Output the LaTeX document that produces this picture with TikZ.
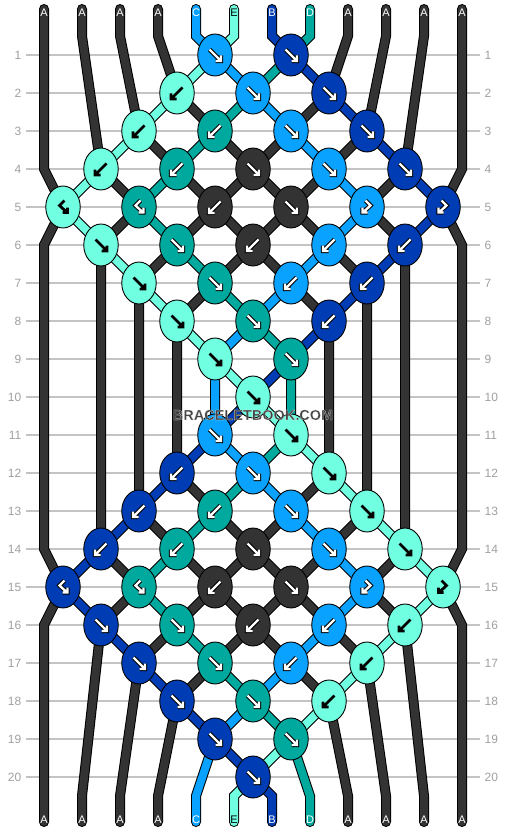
\documentclass[tikz,border=0pt]{standalone}
\usepackage{fontspec}
\setmainfont{Liberation Sans}
\usetikzlibrary{shapes.geometric}
\definecolor{colA}{HTML}{333333}
\definecolor{colB}{HTML}{003CB4}
\definecolor{colC}{HTML}{0AA2FF}
\definecolor{colD}{HTML}{00A99D}
\definecolor{colE}{HTML}{70FFE0}
\definecolor{gridc}{HTML}{C4C4C4}
\definecolor{numc}{HTML}{A0A0A0}
\definecolor{wmc}{HTML}{454545}
\pgfdeclarelayer{grid}\pgfdeclarelayer{strands}
\pgfsetlayers{grid,strands,main}
\tikzset{
 knot/.style={ellipse, draw=black, line width=0.9pt, minimum width=34.5pt, minimum height=42pt, inner sep=0pt},
 rownum/.style={text=numc, font=\fontsize{12}{14}\selectfont, inner sep=0pt},
 gridline/.style={gridc, line width=1.1pt},
 strandout/.style={black, line width=10pt, line cap=round, line join=miter},
 strandin/.style={line width=8pt, line cap=round, line join=miter},
 endlabel/.style={font=\fontsize{11}{12}\selectfont, inner sep=0pt},
 wmark/.style={font=\fontsize{14.5}{16}\selectfont\bfseries, inner sep=0.6pt},
}
% arrow drawing: #1 node, #2 shaft, #3 head
\newcommand\ardw[3]{\begin{scope}[shift={(#1.center)}, line join=miter, line cap=square]
 \draw[black, line width=4.4pt] #2 #3;
 \draw[white, line width=2.4pt] #2 #3;
 \end{scope}}
\newcommand\ardk[3]{\begin{scope}[shift={(#1.center)}, line join=miter, line cap=square]
 \draw[black, line width=2.8pt] #2 #3;
 \end{scope}}
\newcommand\karf[2]{#2{#1}{(-5.5,-5.5)--(5,5)}{(6,0.5)--(6,6)--(0.5,6)}}
\newcommand\karb[2]{#2{#1}{(5.5,-5.5)--(-5,5)}{(-6,0.5)--(-6,6)--(-0.5,6)}}
\newcommand\karbf[2]{#2{#1}{(1.5,-6.5)--(-3.5,-1.5)--(3.5,5)}{(4.5,0.5)--(4.5,5.5)--(-0.5,5.5)}}
\newcommand\karfb[2]{#2{#1}{(-1.5,-6.5)--(3.5,-1.5)--(-3.5,5)}{(-4.5,0.5)--(-4.5,5.5)--(0.5,5.5)}}
\newcommand\strand[2]{\draw[strandout] #2; \draw[strandin, #1] #2;}
\begin{document}
\begin{tikzpicture}[x=1pt,y=-1pt]
\useasboundingbox (0,0) rectangle (506,832);
\begin{pgfonlayer}{grid}
\fill[white] (0,0) rectangle (506,832);
\foreach \r in {1,...,20}{
 \draw[gridline] (26,{17+38*\r}) -- (480,{17+38*\r});
 \node[rownum, anchor=east] (nl\r) at (21.5,{17+38*\r}) {\r};
 \node[rownum, anchor=west] (nr\r) at (484.5,{17+38*\r}) {\r};
}
\end{pgfonlayer}
% strand end coordinates
\foreach \p in {1,...,12}{
 \pgfmathsetmacro\xx{44+38*(\p-1)}
 \coordinate (u\p) at (\xx,9);
 \coordinate (t\p) at (\xx,36);
 \coordinate (b\p) at (\xx,796);
 \coordinate (v\p) at (\xx,822);
}
\coordinate (e4L) at (44,169); \coordinate (e6L) at (44,245);
\coordinate (e14L) at (44,549); \coordinate (e16L) at (44,625);
\coordinate (e4R) at (462,169); \coordinate (e6R) at (462,245);
\coordinate (e14R) at (462,549); \coordinate (e16R) at (462,625);
% knots
\foreach \r/\j/\c/\t/\a in {
 1/9/C/f/w, 1/13/B/f/w,
 2/7/E/b/k, 2/11/C/f/w, 2/15/B/f/w,
 3/5/E/b/k, 3/9/D/b/w, 3/13/C/f/w, 3/17/B/f/w,
 4/3/E/b/k, 4/7/D/b/w, 4/11/A/f/w, 4/15/C/f/w, 4/19/B/f/w,
 5/1/E/bf/k, 5/5/D/bf/w, 5/9/A/b/w, 5/13/A/f/w, 5/17/C/fb/w, 5/21/B/fb/w,
 6/3/E/f/k, 6/7/D/f/w, 6/11/A/b/w, 6/15/C/b/w, 6/19/B/b/w,
 7/5/E/f/k, 7/9/D/f/w, 7/13/C/b/w, 7/17/B/b/w,
 8/7/E/f/k, 8/11/D/f/w, 8/15/B/b/w,
 9/9/E/f/k, 9/13/D/f/w,
 10/11/E/f/k,
 11/9/C/f/w, 11/13/E/f/k,
 12/7/B/b/w, 12/11/C/f/w, 12/15/E/f/k,
 13/5/B/b/w, 13/9/D/b/w, 13/13/C/f/w, 13/17/E/f/k,
 14/3/B/b/w, 14/7/D/b/w, 14/11/A/f/w, 14/15/C/f/w, 14/19/E/f/k,
 15/1/B/bf/w, 15/5/D/bf/w, 15/9/A/b/w, 15/13/A/f/w, 15/17/C/fb/w, 15/21/E/fb/k,
 16/3/B/f/w, 16/7/D/f/w, 16/11/A/b/w, 16/15/C/b/w, 16/19/E/b/k,
 17/5/B/f/w, 17/9/D/f/w, 17/13/C/b/w, 17/17/E/b/k,
 18/7/B/f/w, 18/11/D/f/w, 18/15/E/b/k,
 19/9/B/f/w, 19/13/D/f/w,
 20/11/B/f/w}{
 \node[knot, fill=col\c] (k\r-\j) at ({44+19*\j},{17+38*\r}) {};
 \expandafter\let\expandafter\ArD\csname ard\a\endcsname
 \csname kar\t\endcsname{k\r-\j}{\ArD}
}
% end labels
\foreach \p/\l/\tc in {1/A/white,2/A/white,3/A/white,4/A/white,5/C/white,6/E/black,7/B/white,8/D/white,9/A/white,10/A/white,11/A/white,12/A/white}{
 \node[endlabel, text=\tc] (lt\p) at ({44+38*(\p-1)},13) {\l};
 \node[endlabel, text=\tc] (lb\p) at ({44+38*(\p-1)},820) {\l};
}
% strands
\begin{pgfonlayer}{strands}
\strand{colA}{(u1)--(t1)--(e4L)--(k5-1.center)--(e6L)--(e14L)--(k15-1.center)--(e16L)--(b1)--(v1)}
\strand{colA}{(u12)--(t12)--(e4R)--(k5-21.center)--(e6R)--(e14R)--(k15-21.center)--(e16R)--(b12)--(v12)}
\strand{colA}{(u2)--(t2)--(k4-3.center)--(k5-5.center)--(k6-3.center)--(k14-3.center)--(k15-5.center)--(k16-3.center)--(b2)--(v2)}
\strand{colA}{(u3)--(t3)--(k3-5.center)--(k4-7.center)--(k5-9.center)--(k6-11.center)--(k7-13.center)--(k8-15.center)--(k12-15.center)--(k13-13.center)--(k14-11.center)--(k15-9.center)--(k16-7.center)--(k17-5.center)--(b3)--(v3)}
\strand{colA}{(u4)--(t4)--(k2-7.center)--(k3-9.center)--(k4-11.center)--(k5-13.center)--(k6-15.center)--(k7-17.center)--(k13-17.center)--(k14-15.center)--(k15-13.center)--(k16-11.center)--(k17-9.center)--(k18-7.center)--(b4)--(v4)}
\strand{colA}{(u9)--(t9)--(k2-15.center)--(k3-13.center)--(k4-11.center)--(k5-9.center)--(k6-7.center)--(k7-5.center)--(k13-5.center)--(k14-7.center)--(k15-9.center)--(k16-11.center)--(k17-13.center)--(k18-15.center)--(b9)--(v9)}
\strand{colA}{(u10)--(t10)--(k3-17.center)--(k4-15.center)--(k5-13.center)--(k6-11.center)--(k7-9.center)--(k8-7.center)--(k12-7.center)--(k13-9.center)--(k14-11.center)--(k15-13.center)--(k16-15.center)--(k17-17.center)--(b10)--(v10)}
\strand{colA}{(u11)--(t11)--(k4-19.center)--(k5-17.center)--(k6-19.center)--(k14-19.center)--(k15-17.center)--(k16-19.center)--(b11)--(v11)}
\strand{colC}{(u5)--(t5)--(k1-9.center)--(k2-11.center)--(k3-13.center)--(k4-15.center)--(k5-17.center)--(k6-15.center)--(k7-13.center)--(k8-11.center)--(k9-9.center)--(k11-9.center)--(k12-11.center)--(k13-13.center)--(k14-15.center)--(k15-17.center)--(k16-15.center)--(k17-13.center)--(k18-11.center)--(k19-9.center)--(b5)--(v5)}
\strand{colE}{(u6)--(t6)--(k1-9.center)--(k2-7.center)--(k3-5.center)--(k4-3.center)--(k5-1.center)--(k6-3.center)--(k7-5.center)--(k8-7.center)--(k9-9.center)--(k10-11.center)--(k11-13.center)--(k12-15.center)--(k13-17.center)--(k14-19.center)--(k15-21.center)--(k16-19.center)--(k17-17.center)--(k18-15.center)--(k19-13.center)--(k20-11.center)--(b6)--(v6)}
\strand{colB}{(u7)--(t7)--(k1-13.center)--(k2-15.center)--(k3-17.center)--(k4-19.center)--(k5-21.center)--(k6-19.center)--(k7-17.center)--(k8-15.center)--(k9-13.center)--(k10-11.center)--(k11-9.center)--(k12-7.center)--(k13-5.center)--(k14-3.center)--(k15-1.center)--(k16-3.center)--(k17-5.center)--(k18-7.center)--(k19-9.center)--(k20-11.center)--(b7)--(v7)}
\strand{colD}{(u8)--(t8)--(k1-13.center)--(k2-11.center)--(k3-9.center)--(k4-7.center)--(k5-5.center)--(k6-7.center)--(k7-9.center)--(k8-11.center)--(k9-13.center)--(k11-13.center)--(k12-11.center)--(k13-9.center)--(k14-7.center)--(k15-5.center)--(k16-7.center)--(k17-9.center)--(k18-11.center)--(k19-13.center)--(b8)--(v8)}
\end{pgfonlayer}
% watermark: dark fill with a thin white stroke
\node[wmark, text=wmc] (wm) at (253,415) {\special{pdf:literal direct 2 Tr 1 1 1 RG 0.12 w}BRACELETBOOK.COM\special{pdf:literal direct 0 Tr}};
\end{tikzpicture}
\end{document}
